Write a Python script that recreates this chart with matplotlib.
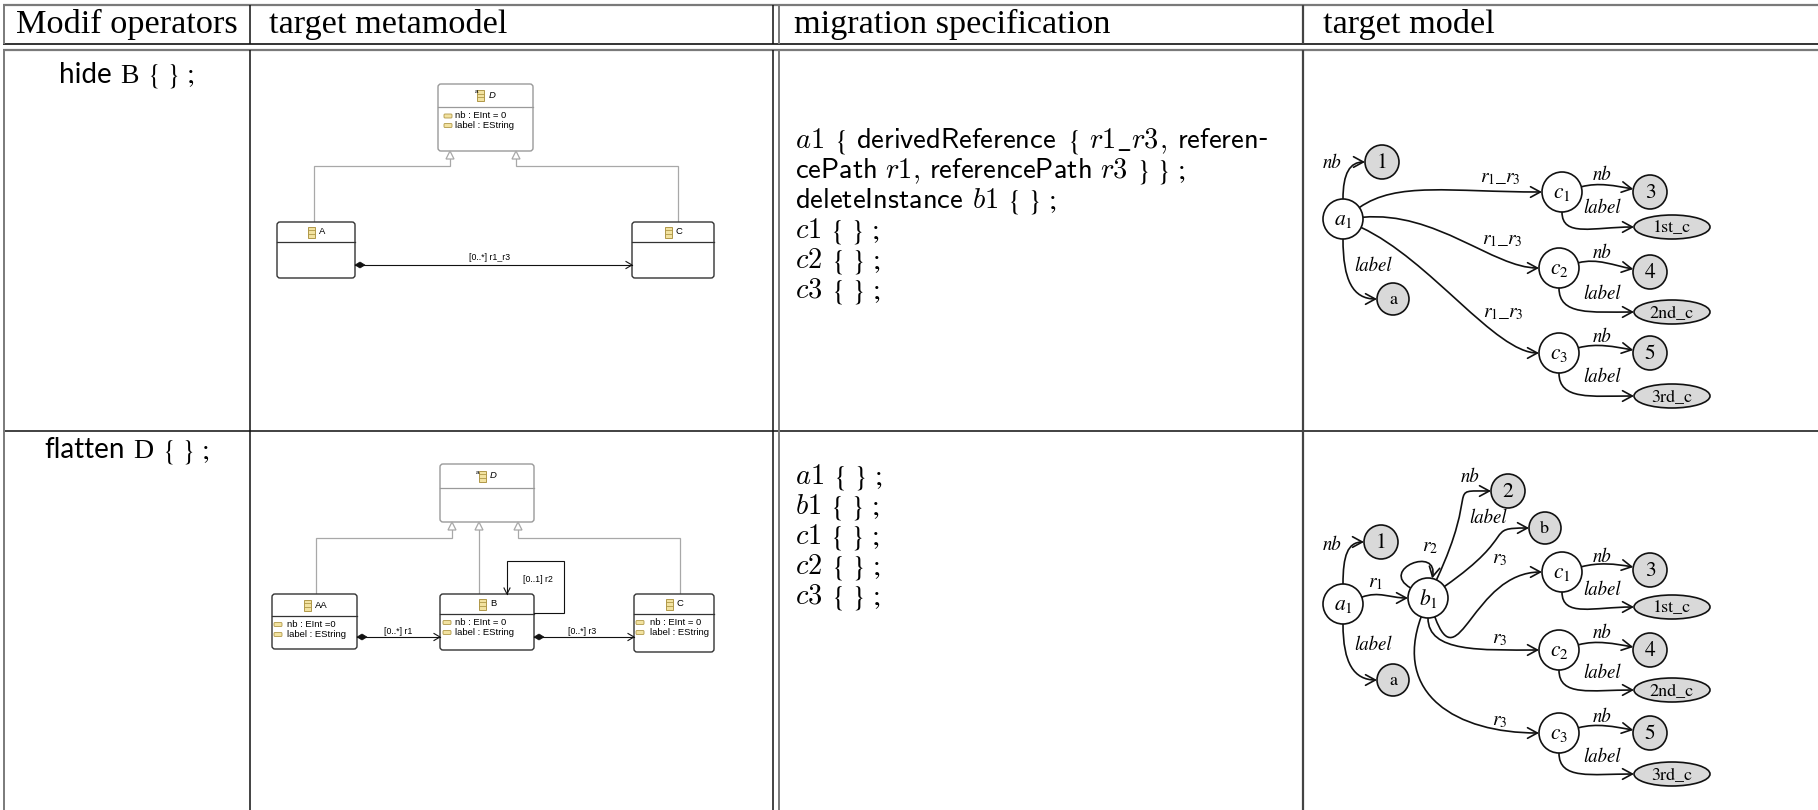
import numpy as np
import matplotlib
matplotlib.use("Agg")
import matplotlib.pyplot as plt
from matplotlib.patches import FancyBboxPatch, Ellipse, FancyArrowPatch, Polygon, Rectangle
from matplotlib.path import Path

W, H = 1818, 810

# ---------------- content ----------------
headers = ["Modif operators", "target metamodel", "migration specification", "target model"]
# token kinds: 'w' sans word, 'v' serif letter, 'm' math identifier, 's' cm-sans word,
#              'p' braces/punctuation, 'h' hyphen
BR = r"$\{\ \}\ ;$"
operators = [
    [("w", "hide"), ("v", "B"), ("p", BR)],
    [("w", "flatten"), ("v", "D"), ("p", BR)],
]
spec_hide = [
    [("m", "a1"), ("p", r"$\{$"), ("s", "derivedReference"), ("p", r"$\{$"), ("m", r"r1\_r3"),
     ("s,", ","), ("s", "referen"), ("h", "-")],
    [("s", "cePath"), ("m", "r1"), ("s,", ","), ("s", "referencePath"), ("m", "r3"),
     ("p", r"$\}\ \}\ ;$")],
    [("s", "deleteInstance"), ("m", "b1"), ("p", BR)],
    [("m", "c1"), ("p", BR)],
    [("m", "c2"), ("p", BR)],
    [("m", "c3"), ("p", BR)],
]
spec_flatten = [
    [("m", "a1"), ("p", BR)],
    [("m", "b1"), ("p", BR)],
    [("m", "c1"), ("p", BR)],
    [("m", "c2"), ("p", BR)],
    [("m", "c3"), ("p", BR)],
]

mm_hide_attrs_D = ["nb : EInt = 0", "label : EString"]
mm_hide_assoc = "[0..*] r1_r3"
mm_flat_attrs_AA = ["nb : EInt =0", "label : EString"]
mm_flat_attrs_B = ["nb : EInt = 0", "label : EString"]
mm_flat_attrs_C = ["nb : EInt = 0", "label : EString"]
mm_flat_assoc = ["[0..*] r1", "[0..1] r2", "[0..*] r3"]

# ---------------- figure ----------------
fig = plt.figure(figsize=(W / 100, H / 100), dpi=100)
ax = fig.add_axes([0, 0, 1, 1])
ax.set_xlim(0, W)
ax.set_ylim(H, 0)
ax.axis("off")
renderer = fig.canvas.get_renderer()

GRAY = "#7a7a7a"
BLK = "#111111"

def hline(y, x0, x1, c, lw):
    ax.plot([x0, x1], [y, y], color=c, lw=lw, solid_capstyle="butt")

def vline(x, y0, y1, c, lw):
    ax.plot([x, x], [y0, y1], color=c, lw=lw, solid_capstyle="butt")

# table rules
hline(5, 3, W, GRAY, 1.6)
hline(44, 3, W, BLK, 1.2)
hline(50, 3, W, GRAY, 1.6)
hline(431, 3, W, "#333333", 1.3)
for (y0, y1) in [(5, 44), (50, H)]:
    vline(4, y0, y1, GRAY, 1.4)
    vline(250, y0, y1, BLK, 1.1)
    vline(773, y0, y1, BLK, 1.1)
    vline(779, y0, y1, GRAY, 1.4)
    vline(1303, y0, y1, "#444444", 1.6)

# headers
SERIF = "Liberation Serif"
HS = 24.7
ax.text(127, 33, headers[0], fontsize=HS, family=SERIF, ha="center", va="baseline")
ax.text(269, 33, headers[1], fontsize=HS, family=SERIF, ha="left", va="baseline")
ax.text(794, 33, headers[2], fontsize=HS, family=SERIF, ha="left", va="baseline")
ax.text(1323, 33, headers[3], fontsize=HS, family=SERIF, ha="left", va="baseline")

# ---------------- run-based text ----------------
def make_token(x, y, kind, s, size):
    kw = dict(fontsize=size, ha="left", va="baseline")
    if kind == "m":
        return ax.text(x, y, "$" + s + "$", math_fontfamily="cm", **kw)
    if kind in ("s", "s,"):
        return ax.text(x, y, r"$\mathsf{" + s + "}$", math_fontfamily="cm", **kw)
    if kind == "p":
        return ax.text(x, y, s, math_fontfamily="stix", **kw)
    if kind == "v":
        return ax.text(x, y, s, family=SERIF, **kw)
    return ax.text(x, y, s, family="Lato", **kw)

def draw_runs(x, y, tokens, size, space=None, justify_to=None, center=None):
    sp = 0.3 * size * 100 / 72 if space is None else space
    arts = []
    for kind, s in tokens:
        t = make_token(0, y, kind, s, size)
        w = t.get_window_extent(renderer=renderer).width
        arts.append((kind, t, w))
    gaps = []
    for i in range(1, len(arts)):
        k = arts[i][0]
        gaps.append(0.0 if k in ("s,", "h") else 1.0)
    total = sum(a[2] for a in arts)
    ng = sum(gaps)
    if justify_to is not None and ng > 0:
        sp = (justify_to - x - total) / ng
    if center is not None:
        x = center - (total + ng * sp) / 2
    cx = x
    for i, (kind, t, w) in enumerate(arts):
        if i > 0:
            cx += gaps[i - 1] * sp
        t.set_x(cx)
        cx += w

OPS = 20
draw_runs(0, 83, operators[0], OPS, center=127)
draw_runs(0, 458, operators[1], OPS, center=127)

SPS = 20.5
for i, toks in enumerate(spec_hide):
    draw_runs(795, 148 + 30 * i, toks, SPS, justify_to=1268 if i == 0 else None)
for i, toks in enumerate(spec_flatten):
    draw_runs(795, 484 + 30 * i, toks, SPS)

# ---------------- metamodel diagrams ----------------
ICON_FC = "#f2e2a0"
ICON_EC = "#b09848"
SMALL = "Liberation Sans"

def class_icon(x, y):
    ax.add_patch(Rectangle((x - 3.5, y - 5.5), 7, 11, fc=ICON_FC, ec=ICON_EC, lw=0.7, zorder=5))
    for yy in (y - 1.8, y + 1.8):
        ax.plot([x - 3.5, x + 3.5], [yy, yy], color=ICON_EC, lw=0.6, zorder=6)

def attr_icon(x, y):
    ax.add_patch(FancyBboxPatch((x - 4, y - 2), 8, 4, boxstyle="round,pad=0,rounding_size=1",
                                fc=ICON_FC, ec=ICON_EC, lw=0.6, zorder=5))

def uml_class(x0, y0, x1, y1, ydiv, name, attrs, ec, italic=False, abstract=False,
              icon_dx=7, text_dx=15):
    ax.add_patch(FancyBboxPatch((x0, y0), x1 - x0, y1 - y0,
                                boxstyle="round,pad=0,rounding_size=3",
                                fc="white", ec=ec, lw=1.0, zorder=3))
    ax.plot([x0, x1], [ydiv, ydiv], color=ec, lw=0.9, zorder=4)
    cx = (x0 + x1) / 2
    ny = (y0 + ydiv) / 2
    w = 5.2 * len(name)
    gx = cx - (7 + 4 + w) / 2
    class_icon(gx + 3.5, ny)
    ax.text(gx + 11, ny, name, fontsize=6.8, family=SMALL,
            style="italic" if italic else "normal", ha="left", va="center", zorder=6)
    if abstract:
        ax.text(gx - 1, ny - 4, "a", fontsize=4.5, family=SMALL, ha="center", va="center",
                zorder=7)
    for i, a in enumerate(attrs):
        ay = ydiv + 8.5 + i * 10
        attr_icon(x0 + icon_dx, ay)
        ax.text(x0 + text_dx, ay, a, fontsize=6.8, family=SMALL, ha="left", va="center", zorder=6)

LGRAY = "#a8a8a8"

def gen_triangle(x, ytip):
    ax.add_patch(Polygon([(x, ytip), (x - 4, ytip + 8), (x + 4, ytip + 8)], closed=True,
                         fc="white", ec=LGRAY, lw=0.9, zorder=4))

def poly(xs, ys, c, lw=0.9, z=2):
    ax.plot(xs, ys, color=c, lw=lw, zorder=z, solid_joinstyle="miter")

def assoc(xa, xb, y, label, lx, ly):
    poly([xa, xb], [y, y], BLK, 0.8, 3)
    ax.add_patch(Polygon([(xa, y), (xa + 5, y - 3), (xa + 10, y), (xa + 5, y + 3)],
                         closed=True, fc=BLK, ec=BLK, lw=0.5, zorder=4))
    poly([xb - 6, xb, xb - 6], [y - 3.5, y, y + 3.5], BLK, 0.8, 4)
    ax.text(lx, ly, label, fontsize=6.3, family=SMALL, ha="center", va="center", zorder=6)

# row 1 : hide B
uml_class(438, 84, 533, 151, 107, "D", [], "#9a9a9a", italic=True, abstract=True)
for i, a in enumerate(mm_hide_attrs_D):
    attr_icon(448, 116 + 9.5 * i)
    ax.text(455, 116 + 9.5 * i, a, fontsize=6.8, family=SMALL, ha="left", va="center", zorder=6)
uml_class(277, 222, 355, 278, 242, "A", [], "#333333")
uml_class(632, 222, 714, 278, 242, "C", [], "#333333")
poly([450, 450, 314, 314], [159, 166, 166, 222], LGRAY)
poly([516, 516, 678, 678], [159, 166, 166, 222], LGRAY)
gen_triangle(450, 151)
gen_triangle(516, 151)
assoc(355, 632, 265, mm_hide_assoc, 490, 258)

# row 2 : flatten D
uml_class(440, 464, 534, 522, 488, "D", [], "#9a9a9a", italic=True, abstract=True)
uml_class(272, 594, 357, 649, 616, "AA", mm_flat_attrs_AA, "#333333", icon_dx=6, text_dx=15)
uml_class(440, 594, 534, 650, 614, "B", mm_flat_attrs_B, "#333333", icon_dx=7, text_dx=15)
uml_class(634, 594, 714, 652, 614, "C", mm_flat_attrs_C, "#333333", icon_dx=6, text_dx=16)
poly([452, 452, 316, 316], [530, 538, 538, 594], LGRAY)
poly([479, 479], [530, 594], LGRAY)
poly([518, 518, 680, 680], [530, 538, 538, 594], LGRAY)
for gx in (452, 479, 518):
    gen_triangle(gx, 522)
assoc(357, 440, 637, mm_flat_assoc[0], 398, 631)
assoc(534, 634, 637, mm_flat_assoc[2], 582, 631)
poly([534, 564, 564, 507, 507], [613, 613, 561, 561, 594], BLK, 0.8, 3)
poly([504, 507, 510], [588, 594, 588], BLK, 0.8, 4)
ax.text(538, 580, mm_flat_assoc[1], fontsize=6.3, family=SMALL, ha="center", va="center")

# ---------------- target model graphs ----------------
GFILL = "#d9d9d9"
TIMES = "STIXGeneral"

def node(n, label, fill, size, math=False):
    cx, cy, rx, ry = n
    ax.add_patch(Ellipse((cx, cy), 2 * rx, 2 * ry, fc=fill, ec=BLK, lw=1.2, zorder=5))
    if math:
        ax.text(cx, cy + 1, label, fontsize=size, math_fontfamily="stix", ha="center",
                va="center", zorder=6)
    else:
        ax.text(cx, cy + 1, label, fontsize=size, family=TIMES, ha="center", va="center", zorder=6)

def bpt(n, ang):
    cx, cy, rx, ry = n
    a = np.deg2rad(ang)
    return np.array([cx + rx * np.cos(a), cy - ry * np.sin(a)])

def edge(n1, out, n2, inn, k1=0.45, k2=0.45, L=None):
    p0 = bpt(n1, out)
    p3 = bpt(n2, inn)
    d = np.hypot(*(p3 - p0)) if L is None else L
    a1 = np.deg2rad(out)
    a2 = np.deg2rad(inn)
    p1 = p0 + k1 * d * np.array([np.cos(a1), -np.sin(a1)])
    p2 = p3 + k2 * d * np.array([np.cos(a2), -np.sin(a2)])
    path = Path([p0, p1, p2, p3], [Path.MOVETO, Path.CURVE4, Path.CURVE4, Path.CURVE4])
    ax.add_patch(FancyArrowPatch(path=path, arrowstyle="->,head_length=7,head_width=3.8",
                                 mutation_scale=1, lw=1.2, color=BLK, zorder=4,
                                 shrinkA=0, shrinkB=0))

def elabel(x, y, s, size=13.5):
    if s.startswith("$"):
        ax.text(x, y, s, fontsize=size, math_fontfamily="stix", ha="center", va="center", zorder=6)
    else:
        ax.text(x, y, s, fontsize=size, family=TIMES, style="italic", ha="center", va="center",
                zorder=6)

R = 20
RV = 17
NS = 15.5

def c_block(C, N, E, num, strl, ny_nb, ny_lab):
    node(C[0], C[1], "white", NS, math=True)
    node(N, num, GFILL, NS)
    node(E, strl, GFILL, 13)
    edge(C[0], 15, N, 170, 0.35, 0.35)
    edge(C[0], 270, E, 180, 0.35, 0.55)
    elabel(1602, ny_nb, "nb")
    elabel(1602, ny_lab, "label")

# row 1 graph
A1 = (1343, 219, R, R)
N1 = (1382, 162, RV, RV)
NA = (1393, 299, 16, 16)
C1 = (1562, 192, R, R)
C2 = (1559, 268, R, R)
C3 = (1559, 353, R, R)
node(A1, r"$\mathit{a_1}$", "white", NS, math=True)
node(N1, "1", GFILL, NS)
node(NA, "a", GFILL, 13)
edge(A1, 90, N1, 180, 0.6, 0.35)
edge(A1, 270, NA, 180, 0.6, 0.35)
elabel(1332, 163, "nb")
elabel(1373, 266, "label")
edge(A1, 35, C1, 180, 0.25, 0.5)
edge(A1, 5, C2, 180, 0.4, 0.25)
edge(A1, -25, C3, 180, 0.35, 0.2)
elabel(1500, 178, r"$\mathit{r_1\_r_3}$", 14)
elabel(1502, 240, r"$\mathit{r_1\_r_3}$", 14)
elabel(1503, 313, r"$\mathit{r_1\_r_3}$", 14)
c_block((C1, r"$\mathit{c_1}$"), (1650, 192, RV, RV), (1672, 227, 38, 12), "3", "1st_c", 175, 208)
c_block((C2, r"$\mathit{c_2}$"), (1650, 272, RV, RV), (1672, 312, 38, 12), "4", "2nd_c", 253, 294)
c_block((C3, r"$\mathit{c_3}$"), (1650, 353, RV, RV), (1672, 396, 38, 12), "5", "3rd_c", 337, 377)

# row 2 graph
A1b = (1343, 604, R, R)
N1b = (1381, 542, RV, RV)
NAb = (1393, 680, 16, 16)
B1 = (1428, 598, R, R)
N2 = (1508, 491, RV, RV)
NB = (1545, 528, 16, 16)
C1b = (1562, 572, R, R)
C2b = (1559, 650, R, R)
C3b = (1559, 733, R, R)
node(A1b, r"$\mathit{a_1}$", "white", NS, math=True)
node(N1b, "1", GFILL, NS)
node(NAb, "a", GFILL, 13)
node(B1, r"$\mathit{b_1}$", "white", NS, math=True)
node(N2, "2", GFILL, NS)
node(NB, "b", GFILL, 13)
edge(A1b, 90, N1b, 180, 0.6, 0.35)
edge(A1b, 270, NAb, 180, 0.6, 0.35)
elabel(1332, 545, "nb")
elabel(1373, 645, "label")
edge(A1b, 20, B1, 180, 0.4, 0.4)
elabel(1375, 583, r"$\mathit{r_1}$", 14)
edge(B1, 150, B1, 78, 1.1, 1.0, L=34)
elabel(1430, 547, r"$\mathit{r_2}$", 14)
edge(B1, 65, N2, 180, 1.0, 0.45)
elabel(1470, 477, "nb")
edge(B1, 35, NB, 180, 0.9, 0.45)
elabel(1488, 518, "label")
edge(B1, -70, C1b, 180, 0.6, 0.6)
edge(B1, 270, C2b, 180, 0.3, 0.5)
edge(B1, 250, C3b, 180, 0.5, 0.5)
elabel(1500, 558, r"$\mathit{r_3}$", 14)
elabel(1500, 638, r"$\mathit{r_3}$", 14)
elabel(1500, 721, r"$\mathit{r_3}$", 14)
c_block((C1b, r"$\mathit{c_1}$"), (1650, 570, RV, RV), (1672, 607, 38, 12), "3", "1st_c", 557, 590)
c_block((C2b, r"$\mathit{c_2}$"), (1650, 650, RV, RV), (1672, 690, 38, 12), "4", "2nd_c", 633, 673)
c_block((C3b, r"$\mathit{c_3}$"), (1650, 733, RV, RV), (1672, 774, 38, 12), "5", "3rd_c", 717, 757)

fig.savefig("out.png", dpi=100)
